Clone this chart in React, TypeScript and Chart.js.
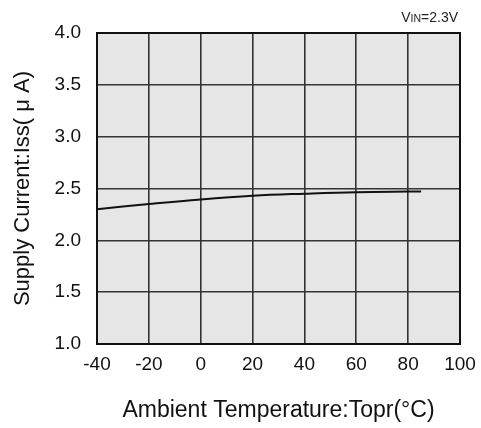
import React, { useEffect, useRef } from "react";
import { Chart, registerables } from "chart.js";

Chart.register(...registerables);

const temperatures = [-40, -20, 0, 20, 40, 60, 80, 85];
const supplyCurrent = [2.3, 2.35, 2.395, 2.43, 2.45, 2.465, 2.47, 2.47];
const xTicks = [-40, -20, 0, 20, 40, 60, 80, 100];
const yTicks = [1.0, 1.5, 2.0, 2.5, 3.0, 3.5, 4.0];

const FONT = "'Liberation Sans', Arial, sans-serif";

const bgPlugin = {
  id: "plotBg",
  beforeDraw(chart: any) {
    const { ctx, chartArea } = chart;
    ctx.save();
    ctx.fillStyle = "#e6e6e6";
    ctx.fillRect(chartArea.left, chartArea.top, chartArea.right - chartArea.left, chartArea.bottom - chartArea.top);
    ctx.restore();
  },
  afterDraw(chart: any) {
    const { ctx, chartArea } = chart;
    ctx.save();
    ctx.strokeStyle = "#111";
    ctx.lineWidth = 2;
    ctx.strokeRect(chartArea.left, chartArea.top, chartArea.right - chartArea.left, chartArea.bottom - chartArea.top);
    // VIN label
    ctx.fillStyle = "#222";
    ctx.textBaseline = "alphabetic";
    const y = 22;
    const parts: [string, number][] = [["V", 14], ["IN", 10.5], ["=2.3V", 14]];
    const widths = parts.map(([t, s]) => {
      ctx.font = `${s}px ${FONT}`;
      return ctx.measureText(t).width;
    });
    let x = 458 - widths.reduce((a, b) => a + b, 0);
    parts.forEach(([t, s], i) => {
      ctx.font = `${s}px ${FONT}`;
      ctx.fillText(t, x, y);
      x += widths[i];
    });
    ctx.restore();
  },
};

export default function App() {
  const ref = useRef<HTMLCanvasElement>(null);
  useEffect(() => {
    document.body.style.margin = "0";
    const chart = new Chart(ref.current!, {
      type: "line",
      data: {
        datasets: [
          {
            data: temperatures.map((t, i) => ({ x: t, y: supplyCurrent[i] })),
            borderColor: "#111",
            borderWidth: 2,
            pointRadius: 0,
            tension: 0.4,
            fill: false,
          },
        ],
      },
      options: {
        animation: false,
        responsive: false,
        maintainAspectRatio: false,
        devicePixelRatio: 1,
        layout: { padding: { left: 0, top: 33, right: 21, bottom: 0 } },
        plugins: { legend: { display: false }, tooltip: { enabled: false } },
        scales: {
          x: {
            type: "linear",
            min: -40,
            max: 100,
            afterBuildTicks: (s: any) => {
              s.ticks = xTicks.map((v) => ({ value: v }));
            },
            afterFit: (s: any) => {
              s.height = 84;
              s.paddingLeft = 0;
              s.paddingRight = 0;
            },
            grid: { color: "#333", lineWidth: 1.6, drawTicks: false },
            border: { display: false },
            ticks: { color: "#111", font: { family: FONT, size: 19 }, padding: 9, maxRotation: 0 },
            title: {
              display: true,
              text: "Ambient Temperature:Topr(°C)",
              color: "#111",
              font: { family: FONT, size: 23 },
              padding: { top: 0, bottom: 4 },
            },
          },
          y: {
            type: "linear",
            min: 1,
            max: 4,
            afterBuildTicks: (s: any) => {
              s.ticks = yTicks.map((v) => ({ value: v }));
            },
            afterFit: (s: any) => {
              s.width = 97;
              s.paddingTop = 0;
              s.paddingBottom = 0;
            },
            grid: { color: "#333", lineWidth: 1.6, drawTicks: false },
            border: { display: false },
            ticks: {
              color: "#111",
              font: { family: FONT, size: 19 },
              padding: 16,
              callback: (v: any) => Number(v).toFixed(1),
            },
            title: {
              display: true,
              text: "Supply Current:Iss( μ A)",
              color: "#111",
              font: { family: FONT, size: 22 },
              padding: { top: 10, bottom: 0 },
            },
          },
        },
      },
      plugins: [bgPlugin],
    });
    return () => chart.destroy();
  }, []);
  return (
    <div style={{ width: 481, height: 428, background: "#fff" }}>
      <canvas ref={ref} width={481} height={428} style={{ display: "block" }} />
    </div>
  );
}
